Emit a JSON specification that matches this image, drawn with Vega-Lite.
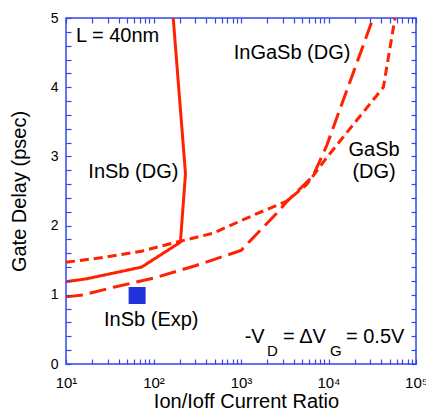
{
  "$schema": "https://vega.github.io/schema/vega-lite/v6.json",
  "width": 350,
  "height": 346,
  "autosize": "none",
  "padding": {"left": 66, "top": 18, "right": 10, "bottom": 56},
  "background": "white",
  "config": {
    "font": "Liberation Sans",
    "view": {"stroke": "#3344ee", "strokeWidth": 1.5, "fill": null},
    "axis": {
      "domain": false,
      "grid": false,
      "labelColor": "black",
      "labelFont": "Liberation Sans",
      "labelFontSize": 14,
      "titleFont": "Liberation Sans",
      "titleFontSize": 20,
      "titleFontWeight": "normal",
      "titleColor": "black"
    }
  },
  "datasets": {
    "curves": [
      {"series": "InSb (DG)", "order": 1, "x": 10, "y": 1.19},
      {"series": "InSb (DG)", "order": 2, "x": 17, "y": 1.23},
      {"series": "InSb (DG)", "order": 3, "x": 73, "y": 1.40},
      {"series": "InSb (DG)", "order": 4, "x": 203, "y": 1.76},
      {"series": "InSb (DG)", "order": 5, "x": 232, "y": 2.75},
      {"series": "InSb (DG)", "order": 6, "x": 168, "y": 5.0},
      {"series": "InGaSb (DG)", "order": 1, "x": 10, "y": 0.97},
      {"series": "InGaSb (DG)", "order": 2, "x": 16, "y": 1.0},
      {"series": "InGaSb (DG)", "order": 3, "x": 35, "y": 1.11},
      {"series": "InGaSb (DG)", "order": 4, "x": 100, "y": 1.24},
      {"series": "InGaSb (DG)", "order": 5, "x": 300, "y": 1.42},
      {"series": "InGaSb (DG)", "order": 6, "x": 1000, "y": 1.64},
      {"series": "InGaSb (DG)", "order": 7, "x": 2560, "y": 2.18},
      {"series": "InGaSb (DG)", "order": 8, "x": 3360, "y": 2.35},
      {"series": "InGaSb (DG)", "order": 9, "x": 6600, "y": 2.71},
      {"series": "InGaSb (DG)", "order": 10, "x": 9500, "y": 3.15},
      {"series": "InGaSb (DG)", "order": 11, "x": 32400, "y": 5.0},
      {"series": "GaSb (DG)", "order": 1, "x": 10, "y": 1.47},
      {"series": "GaSb (DG)", "order": 2, "x": 27, "y": 1.54},
      {"series": "GaSb (DG)", "order": 3, "x": 73, "y": 1.63},
      {"series": "GaSb (DG)", "order": 4, "x": 170, "y": 1.75},
      {"series": "GaSb (DG)", "order": 5, "x": 480, "y": 1.89},
      {"series": "GaSb (DG)", "order": 6, "x": 1500, "y": 2.17},
      {"series": "GaSb (DG)", "order": 7, "x": 3300, "y": 2.35},
      {"series": "GaSb (DG)", "order": 8, "x": 5600, "y": 2.59},
      {"series": "GaSb (DG)", "order": 9, "x": 9500, "y": 2.98},
      {"series": "GaSb (DG)", "order": 10, "x": 42400, "y": 4.0},
      {"series": "GaSb (DG)", "order": 11, "x": 57500, "y": 5.0}
    ],
    "exp": [
      {"series": "InSb (Exp)", "x": 65, "y": 0.99}
    ],
    "labels": [
      {"text": "L = 40nm", "x": 13.0, "y": 4.648},
      {"text": "InSb (DG)", "x": 18.0, "y": 2.681},
      {"text": "InGaSb (DG)", "x": 826, "y": 4.406},
      {"text": "InSb (Exp)", "x": 27.2, "y": 0.555},
      {"text": "-V", "x": 1102, "y": 0.304},
      {"text": "= ΔV", "x": 3020, "y": 0.304},
      {"text": "= 0.5V", "x": 15850, "y": 0.304}
    ],
    "centered": [
      {"text": "GaSb", "x": 33200, "y": 3.004},
      {"text": "(DG)", "x": 33200, "y": 2.691}
    ],
    "subs": [
      {"text": "D", "x": 1982, "y": 0.12},
      {"text": "G", "x": 10400, "y": 0.12}
    ]
  },
  "resolve": {"axis": {"x": "independent", "y": "independent"}},
  "layer": [
    {
      "data": {"name": "curves"},
      "mark": {"type": "line", "color": "#ff2200", "strokeWidth": 3, "strokeCap": "butt", "strokeJoin": "miter"},
      "encoding": {
        "x": {
          "field": "x", "type": "quantitative",
          "scale": {"type": "log", "domain": [10, 100000], "nice": false},
          "axis": {
            "orient": "bottom",
            "zindex": 1,
            "title": "Ion/Ioff Current Ratio",
            "titleBaseline": "alphabetic",
            "titleY": 48,
            "titleX": 180,
            "values": [10,20,30,40,50,60,70,80,90,100,200,300,400,500,600,700,800,900,1000,2000,3000,4000,5000,6000,7000,8000,9000,10000,20000,30000,40000,50000,60000,70000,80000,90000,100000],
            "labelExpr": "datum.value == 10 ? '10¹' : datum.value == 100 ? '10²' : datum.value == 1000 ? '10³' : datum.value == 10000 ? '10⁴' : datum.value == 100000 ? '10⁵' : ''",
            "labelOverlap": false,
            "labelFlush": false,
            "labelFontSize": 15,
            "labelPadding": 11,
            "ticks": true,
            "tickSize": 5,
            "offset": -5,
            "tickColor": "#3344ee",
            "tickWidth": 1.2
          }
        },
        "y": {
          "field": "y", "type": "quantitative",
          "scale": {"domain": [0, 5], "nice": false},
          "axis": {
            "orient": "left",
            "zindex": 1,
            "title": "Gate Delay (psec)",
            "titleX": -42,
            "values": [0,0.2,0.4,0.6,0.8,1,1.2,1.4,1.6,1.8,2,2.2,2.4,2.6,2.8,3,3.2,3.4,3.6,3.8,4,4.2,4.4,4.6,4.8,5],
            "labelExpr": "datum.value % 1 == 0 ? format(datum.value, 'd') : ''",
            "labelOverlap": false,
            "labelFlush": false,
            "labelPadding": 8,
            "ticks": true,
            "tickSize": 5,
            "offset": -5,
            "tickColor": "#3344ee",
            "tickWidth": 1.2
          }
        },
        "detail": {"field": "series"},
        "order": {"field": "order", "type": "quantitative"},
        "strokeDash": {
          "field": "series", "type": "nominal",
          "scale": {"domain": ["InSb (DG)", "InGaSb (DG)", "GaSb (DG)"], "range": [[1, 0], [17, 7], [9, 5]]},
          "legend": null
        }
      }
    },
    {
      "data": {"name": "exp"},
      "mark": {"type": "point", "shape": "square", "filled": true, "size": 289, "color": "#2233dd", "opacity": 1},
      "encoding": {
        "x": {
          "field": "x", "type": "quantitative",
          "scale": {"type": "log", "domain": [10, 100000], "nice": false},
          "axis": {
            "orient": "top", "zindex": 1, "title": null, "labels": false, "ticks": true,
            "tickSize": 5, "offset": -5, "tickColor": "#3344ee", "tickWidth": 1.2,
            "values": [10,20,30,40,50,60,70,80,90,100,200,300,400,500,600,700,800,900,1000,2000,3000,4000,5000,6000,7000,8000,9000,10000,20000,30000,40000,50000,60000,70000,80000,90000,100000]
          }
        },
        "y": {
          "field": "y", "type": "quantitative",
          "scale": {"domain": [0, 5], "nice": false},
          "axis": {
            "orient": "right", "zindex": 1, "title": null, "labels": false, "ticks": true,
            "tickSize": 5, "offset": -5, "tickColor": "#3344ee", "tickWidth": 1.2,
            "values": [0,0.2,0.4,0.6,0.8,1,1.2,1.4,1.6,1.8,2,2.2,2.4,2.6,2.8,3,3.2,3.4,3.6,3.8,4,4.2,4.4,4.6,4.8,5]
          }
        }
      }
    },
    {
      "data": {"name": "labels"},
      "mark": {"type": "text", "align": "left", "baseline": "alphabetic", "fontSize": 20, "color": "black"},
      "encoding": {
        "x": {"field": "x", "type": "quantitative", "axis": null},
        "y": {"field": "y", "type": "quantitative", "axis": null},
        "text": {"field": "text"}
      }
    },
    {
      "data": {"name": "centered"},
      "mark": {"type": "text", "align": "center", "baseline": "alphabetic", "fontSize": 20, "color": "black"},
      "encoding": {
        "x": {"field": "x", "type": "quantitative", "axis": null},
        "y": {"field": "y", "type": "quantitative", "axis": null},
        "text": {"field": "text"}
      }
    },
    {
      "data": {"name": "subs"},
      "mark": {"type": "text", "align": "left", "baseline": "alphabetic", "fontSize": 15, "color": "black"},
      "encoding": {
        "x": {"field": "x", "type": "quantitative", "axis": null},
        "y": {"field": "y", "type": "quantitative", "axis": null},
        "text": {"field": "text"}
      }
    }
  ]
}
